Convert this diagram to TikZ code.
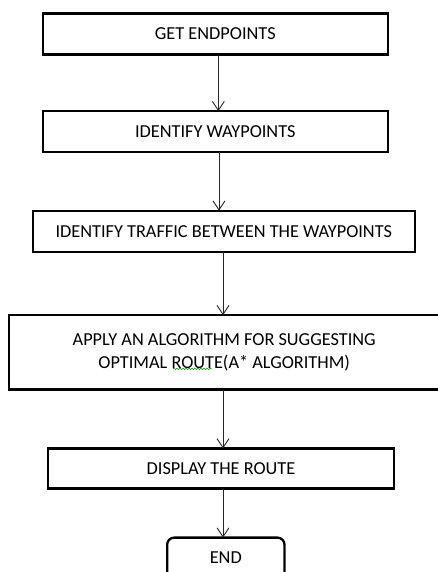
\documentclass[tikz,border=0pt]{standalone}
\usepackage{fontspec}
\setmainfont{Carlito}
\usetikzlibrary{arrows.meta,positioning,decorations.pathmorphing}

\begin{document}
\begin{tikzpicture}[node distance = 56pt]

\tikzstyle{cell} = [rectangle, minimum width=345pt, minimum height=41pt, text centered, align=center, draw=black, line width=2.3pt, outer sep=0pt, font=\fontsize{18.3}{23}\selectfont]
\tikzstyle{arrow} = [line width=0.9pt, draw=black!85, -{Straight Barb[length=9pt,width=12pt]}]

\useasboundingbox (0,0) rectangle (438pt,-572pt);

%% -----------
%% -- STEPS --
%% -----------

\node (endpoints) [cell] at (215.3pt,-34.1pt) {GET ENDPOINTS};
\node (waypoints) [cell, below=56.6pt of endpoints] {IDENTIFY WAYPOINTS};
\node (traffic) [cell, minimum width=381.7pt, below=58.5pt of waypoints, xshift=8.5pt] {IDENTIFY TRAFFIC BETWEEN THE WAYPOINTS};
\node (algorithm) [cell, minimum width=431pt, minimum height=74.4pt, below=63.5pt of traffic, xshift=0.4pt] {APPLY AN ALGORITHM FOR SUGGESTING\\ OPTIMAL ROUTE(A* ALGORITHM)};
\node (display) [cell, minimum width=346pt, minimum height=40.2pt, below=58.8pt of algorithm, xshift=-3.2pt] {DISPLAY THE ROUTE};
\node (stop) [cell, rounded corners=7pt, minimum width=117.3pt, below=49pt of display, xshift=4.8pt] {END};

% spelling mark under ROUTE(
\draw [green!60!black, line width=0.6pt, decorate, decoration={snake, amplitude=0.7pt, segment length=3pt}] ([xshift=-51pt,yshift=-16.5pt]algorithm.center) -- ++(39pt,0);

%% ------------
%% -- ARROWS --
%% ------------

\draw [arrow] ([xshift=3pt]endpoints.south) -- ([xshift=3pt]waypoints.north);
\draw [arrow] ([xshift=3.7pt]waypoints.south) -- ([xshift=-4.8pt]traffic.north);
\draw [arrow] ([xshift=-1.2pt]algorithm.north |- traffic.south) -- ([xshift=-1.2pt]algorithm.north);
\draw [arrow] ([xshift=-1.2pt]algorithm.south) -- ([xshift=-1.2pt]algorithm.south |- display.north);
\draw [arrow] ([xshift=2pt]display.south) -- ([xshift=2pt]display.south |- stop.north);

\end{tikzpicture}
\end{document}
